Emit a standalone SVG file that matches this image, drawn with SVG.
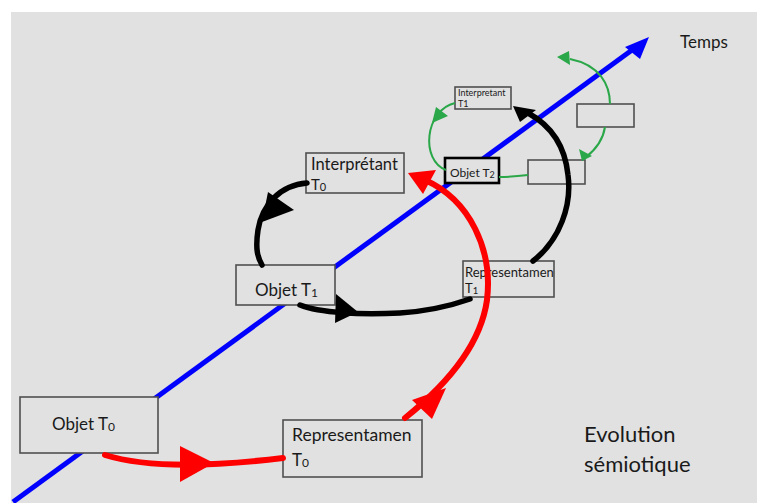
<svg xmlns="http://www.w3.org/2000/svg" width="757" height="503" viewBox="0 0 757 503">
<defs>
<style>
.bx{fill:#e1e1e1;stroke:#505050;stroke-width:1.6}
.t{font-family:Lato,"Open Sans","Liberation Sans",sans-serif;fill:#1a1a1a}
.red{fill:none;stroke:#ff0000;stroke-width:6;stroke-linecap:round}
.blk{fill:none;stroke:#000;stroke-width:5.5;stroke-linecap:round}
.grn{fill:none;stroke:#2aa748;stroke-width:2}
</style>
</defs>
<rect x="0" y="0" width="757" height="503" fill="#ffffff"/>
<rect x="11" y="12" width="746" height="491" fill="#e1e1e1"/>
<g id="time-axis">
<line x1="13" y1="502" x2="632" y2="50" stroke="#0000ff" stroke-width="5"/>
<polygon points="649,37 625,47 640,59" fill="#0000ff"/>
<text class="t" x="680" y="48" font-size="17">Temps</text>
</g>
<g id="objet-t0"><rect class="bx" x="20" y="397" width="138" height="56"/><text class="t" x="52" y="430" font-size="17">Objet T<tspan font-size="12" dy="1">0</tspan></text></g>
<g id="representamen-t0"><rect class="bx" x="283" y="420" width="139" height="57"/><text class="t" x="292" y="441" font-size="17.5">Representamen</text><text class="t" x="292" y="466" font-size="17">T<tspan font-size="12" dy="1">0</tspan></text></g>
<g id="objet-t1"><rect class="bx" x="236" y="265" width="99" height="40"/><text class="t" x="255" y="296" font-size="17">Objet T<tspan font-size="12" dy="1">1</tspan></text></g>
<g id="interpretant-t0"><rect class="bx" x="306" y="153" width="98" height="40"/><text class="t" x="311" y="170" font-size="16.5">Interprétant</text><text class="t" x="311" y="190" font-size="15">T<tspan font-size="11" dy="1">0</tspan></text></g>
<g id="representamen-t1"><rect class="bx" x="463" y="261" width="91" height="36"/><text class="t" x="465" y="277" font-size="13">Representamen</text><text class="t" x="465" y="293" font-size="13">T<tspan font-size="9.5" dy="1">1</tspan></text></g>
<g id="objet-t2"><rect x="445" y="158" width="54" height="25" fill="#e1e1e1" stroke="#000" stroke-width="2.6"/><text class="t" x="450" y="177" font-size="12">Objet T<tspan font-size="9" dy="1">2</tspan></text></g>
<g id="interpretant-t1"><rect class="bx" x="455" y="87" width="56" height="22"/><text class="t" x="458" y="96" font-size="9">Interpretant</text><text class="t" x="458" y="107" font-size="9">T1</text></g>
<g id="representamen-t2"><rect class="bx" x="528" y="160" width="57" height="24"/></g>
<g id="interpretant-t2"><rect class="bx" x="577" y="104" width="57" height="23"/></g>
<g id="connectors">
<path class="red" d="M105 455 C140 466 200 468 283 458"/>
<polygon points="180,446 180,482 214,463" fill="#ff0000"/>
<path class="red" d="M405 418 C440 390 480 350 487 300 C493 250 470 200 425 180"/>
<polygon points="446,388 412,400 432,419" fill="#ff0000"/>
<polygon points="408,173 423,194 436,170" fill="#ff0000"/>
<path class="blk" d="M307 183 C280 185 262 205 258 230 C255 250 258 258 262 265"/>
<polygon points="262,222 268,192 294,210" fill="#000"/>
<path class="blk" d="M300 305 C320 313 360 315 400 313 C430 311 450 306 470 299"/>
<polygon points="336,294 335,323 358,312" fill="#000"/>
<path class="blk" d="M533 261 C560 240 572 205 568 175 C565 145 550 125 528 113"/>
<polygon points="513,106 520,122 536,110" fill="#000"/>
<path class="grn" d="M455 103 C425 110 420 160 446 170"/>
<polygon points="432,123 436,107 448,116" fill="#2aa748"/>
<path class="grn" d="M499 177 C510 177 520 176 528 175"/>
<path class="grn" d="M605 127 C603 140 595 150 586 157"/>
<polygon points="582,161 579,149 592,156" fill="#2aa748"/>
<path class="grn" d="M610 104 C610 85 600 65 570 59"/>
<polygon points="557,57 569,51 570,65" fill="#2aa748"/>
</g>
<g id="caption">
<text class="t" x="584" y="442" font-size="22">Evolution</text>
<text class="t" x="584" y="472" font-size="22">sémiotique</text>
</g>
</svg>
